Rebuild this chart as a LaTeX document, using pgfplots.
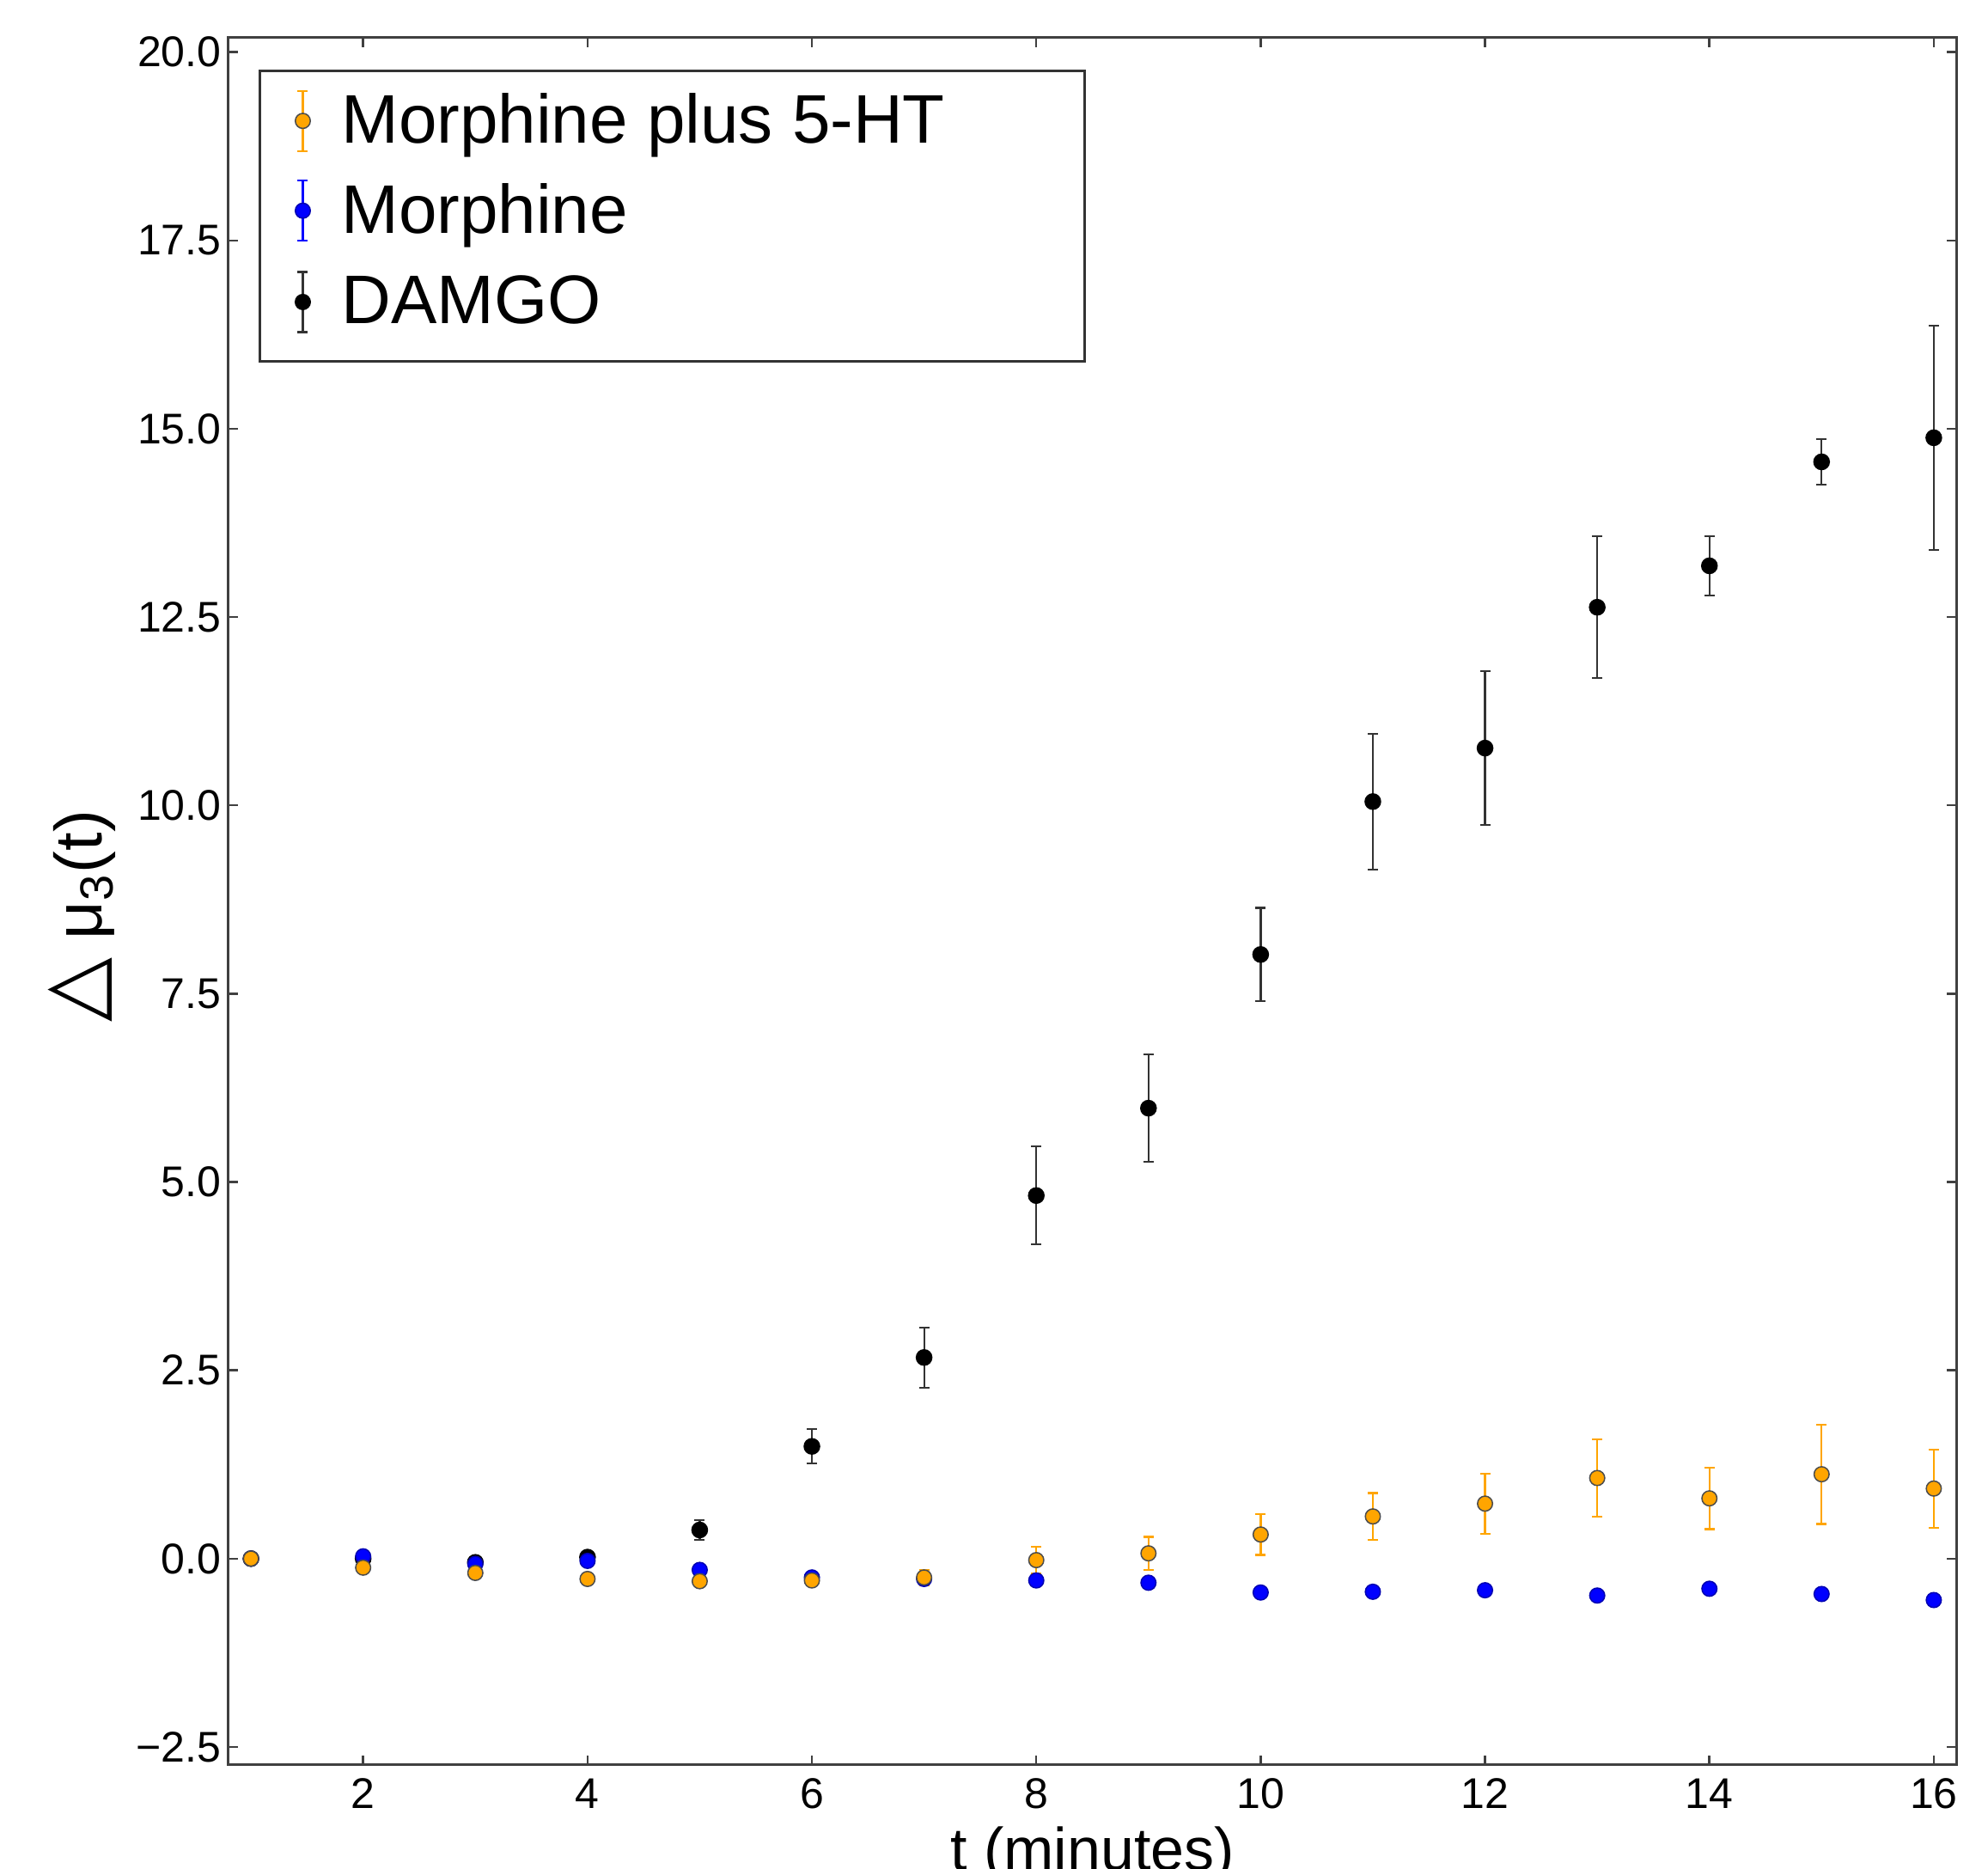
\documentclass[border=0pt]{standalone}
\usepackage{fontspec}
\setmainfont{Liberation Sans}
\newfontfamily\dejavu{DejaVu Sans}
\usepackage{pgfplots}
\usepackage{pgfplotstable}
\pgfplotsset{compat=1.18}

\definecolor{mplorange}{HTML}{FFA500}
\definecolor{mplblue}{HTML}{0000FF}

% t, mean, error
\pgfplotstableread{
t  y      e
1  0.00   0.02
2  0.00   0.02
3  -0.05  0.03
4  0.02   0.07
5  0.38   0.13
6  1.49   0.23
7  2.67   0.40
8  4.82   0.65
9  5.98   0.71
10 8.02   0.62
11 10.05  0.90
12 10.76  1.02
13 12.63  0.94
14 13.18  0.39
15 14.56  0.30
16 14.88  1.49
}\damgo

\pgfplotstableread{
t  y      e
1  0.00   0.01
2  0.03   0.02
3  -0.07  0.02
4  -0.03  0.02
5  -0.15  0.02
6  -0.25  0.02
7  -0.27  0.02
8  -0.29  0.02
9  -0.32  0.02
10 -0.45  0.02
11 -0.44  0.02
12 -0.42  0.02
13 -0.49  0.02
14 -0.40  0.02
15 -0.47  0.02
16 -0.55  0.02
}\morph

\pgfplotstableread{
t  y      e
1  0.00   0.02
2  -0.12  0.03
3  -0.19  0.04
4  -0.27  0.04
5  -0.30  0.05
6  -0.29  0.06
7  -0.25  0.10
8  -0.02  0.18
9  0.07   0.22
10 0.32   0.27
11 0.56   0.31
12 0.73   0.40
13 1.07   0.51
14 0.80   0.41
15 1.12   0.66
16 0.93   0.52
}\morphht

% legend image: error bar colour, fill, edge, vertical offset
\newcommand{\ebimg}[4]{%
  \begin{scope}[yshift=#4]
  \path[draw=none] (-10pt,0) -- (9pt,0);
  \draw[#1,line width=0.45pt] (0,-7pt) -- (0,7pt)
    (-1.2pt,-7pt) -- (1.2pt,-7pt) (-1.2pt,7pt) -- (1.2pt,7pt);
  \filldraw[fill=#2,draw=#3,line width=0.3pt] (0,0) circle (1.75pt);
  \end{scope}}

\pgfplotsset{
  ebplot/.style={only marks, mark=*, mark size=1.75pt, forget plot,
    error bars/y dir=both, error bars/y explicit,
    error bars/error bar style={#1, line width=0.45pt},
    error bars/error mark options={rotate=90, mark size=1.2pt, #1, line width=0.45pt}},
}

\begin{document}
\begin{tikzpicture}
\begin{axis}[
  width=402.2pt, height=402pt, scale only axis,
  xmin=0.8, xmax=16.2, ymin=-2.74, ymax=20.19,
  xtick={2,4,6,8,10,12,14,16},
  ytick={-2.5,0,2.5,5,7.5,10,12.5,15,17.5,20},
  yticklabels={−2.5,0.0,2.5,5.0,7.5,10.0,12.5,15.0,17.5,20.0},
  tick align=inside, major tick length=2.2pt,
  axis line style={black!75, line width=0.6pt},
  tick style={black!75, line width=0.5pt},
  /pgf/number format/assume math mode=true,
  ticklabel style={font=\fontsize{10}{12}\selectfont},
  xticklabel style={inner ysep=3pt},
  yticklabel style={inner xsep=1.5pt},
  xlabel={t (minutes)},
  xlabel style={at={(axis description cs:0.5,-0.0353)}, anchor=north,
    inner sep=0pt, font=\fontsize{14}{16}\selectfont},
  ylabel={{\dejavu\fontsize{19.5}{20}\selectfont △} μ\textsubscript{3}(t)},
  ylabel style={at={(axis description cs:-0.085,0.4913)}, anchor=center,
    inner sep=0pt, font=\fontsize{15.5}{17}\selectfont},
  legend style={at={(axis description cs:0.0174,0.9816)}, anchor=north west,
    draw=black!80, line width=0.6pt, inner xsep=0pt, inner ysep=1.2pt,
    row sep=0pt, column sep=0pt, font=\fontsize{16}{18}\selectfont,
    nodes={inner xsep=0pt, inner ysep=3.2pt, text height=11pt, text depth=3.5pt}},
  legend cell align=left,
]
\addplot[ebplot=black!80, black, mark options={fill=black, draw=black}]
  table[x=t, y=y, y error=e] {\damgo};
\addplot[ebplot=mplblue, mplblue, mark options={fill=mplblue, draw=mplblue!70!black, line width=0.3pt}]
  table[x=t, y=y, y error=e] {\morph};
\addplot[ebplot=mplorange, mplorange, mark options={fill=mplorange, draw=black!70, line width=0.3pt}]
  table[x=t, y=y, y error=e] {\morphht};
\addlegendimage{legend image code/.code={\ebimg{mplorange}{mplorange}{black!70}{0pt}}}
\addlegendentry{\raisebox{-1.5pt}{\makebox[173pt][l]{Morphine plus 5-HT}}}
\addlegendimage{legend image code/.code={\ebimg{mplblue}{mplblue}{mplblue!70!black}{0pt}}}
\addlegendentry{\raisebox{-1.5pt}{Morphine}}
\addlegendimage{legend image code/.code={\ebimg{black!80}{black}{black}{0.9pt}}}
\addlegendentry[text depth=6pt]{\raisebox{-1.6pt}{DAMGO}}
\end{axis}
\pgfresetboundingbox
\path (current axis.south west) ++(-53.2pt,-24.2pt) rectangle ([xshift=7.4pt,yshift=8.8pt]current axis.north east);
\end{tikzpicture}
\end{document}
